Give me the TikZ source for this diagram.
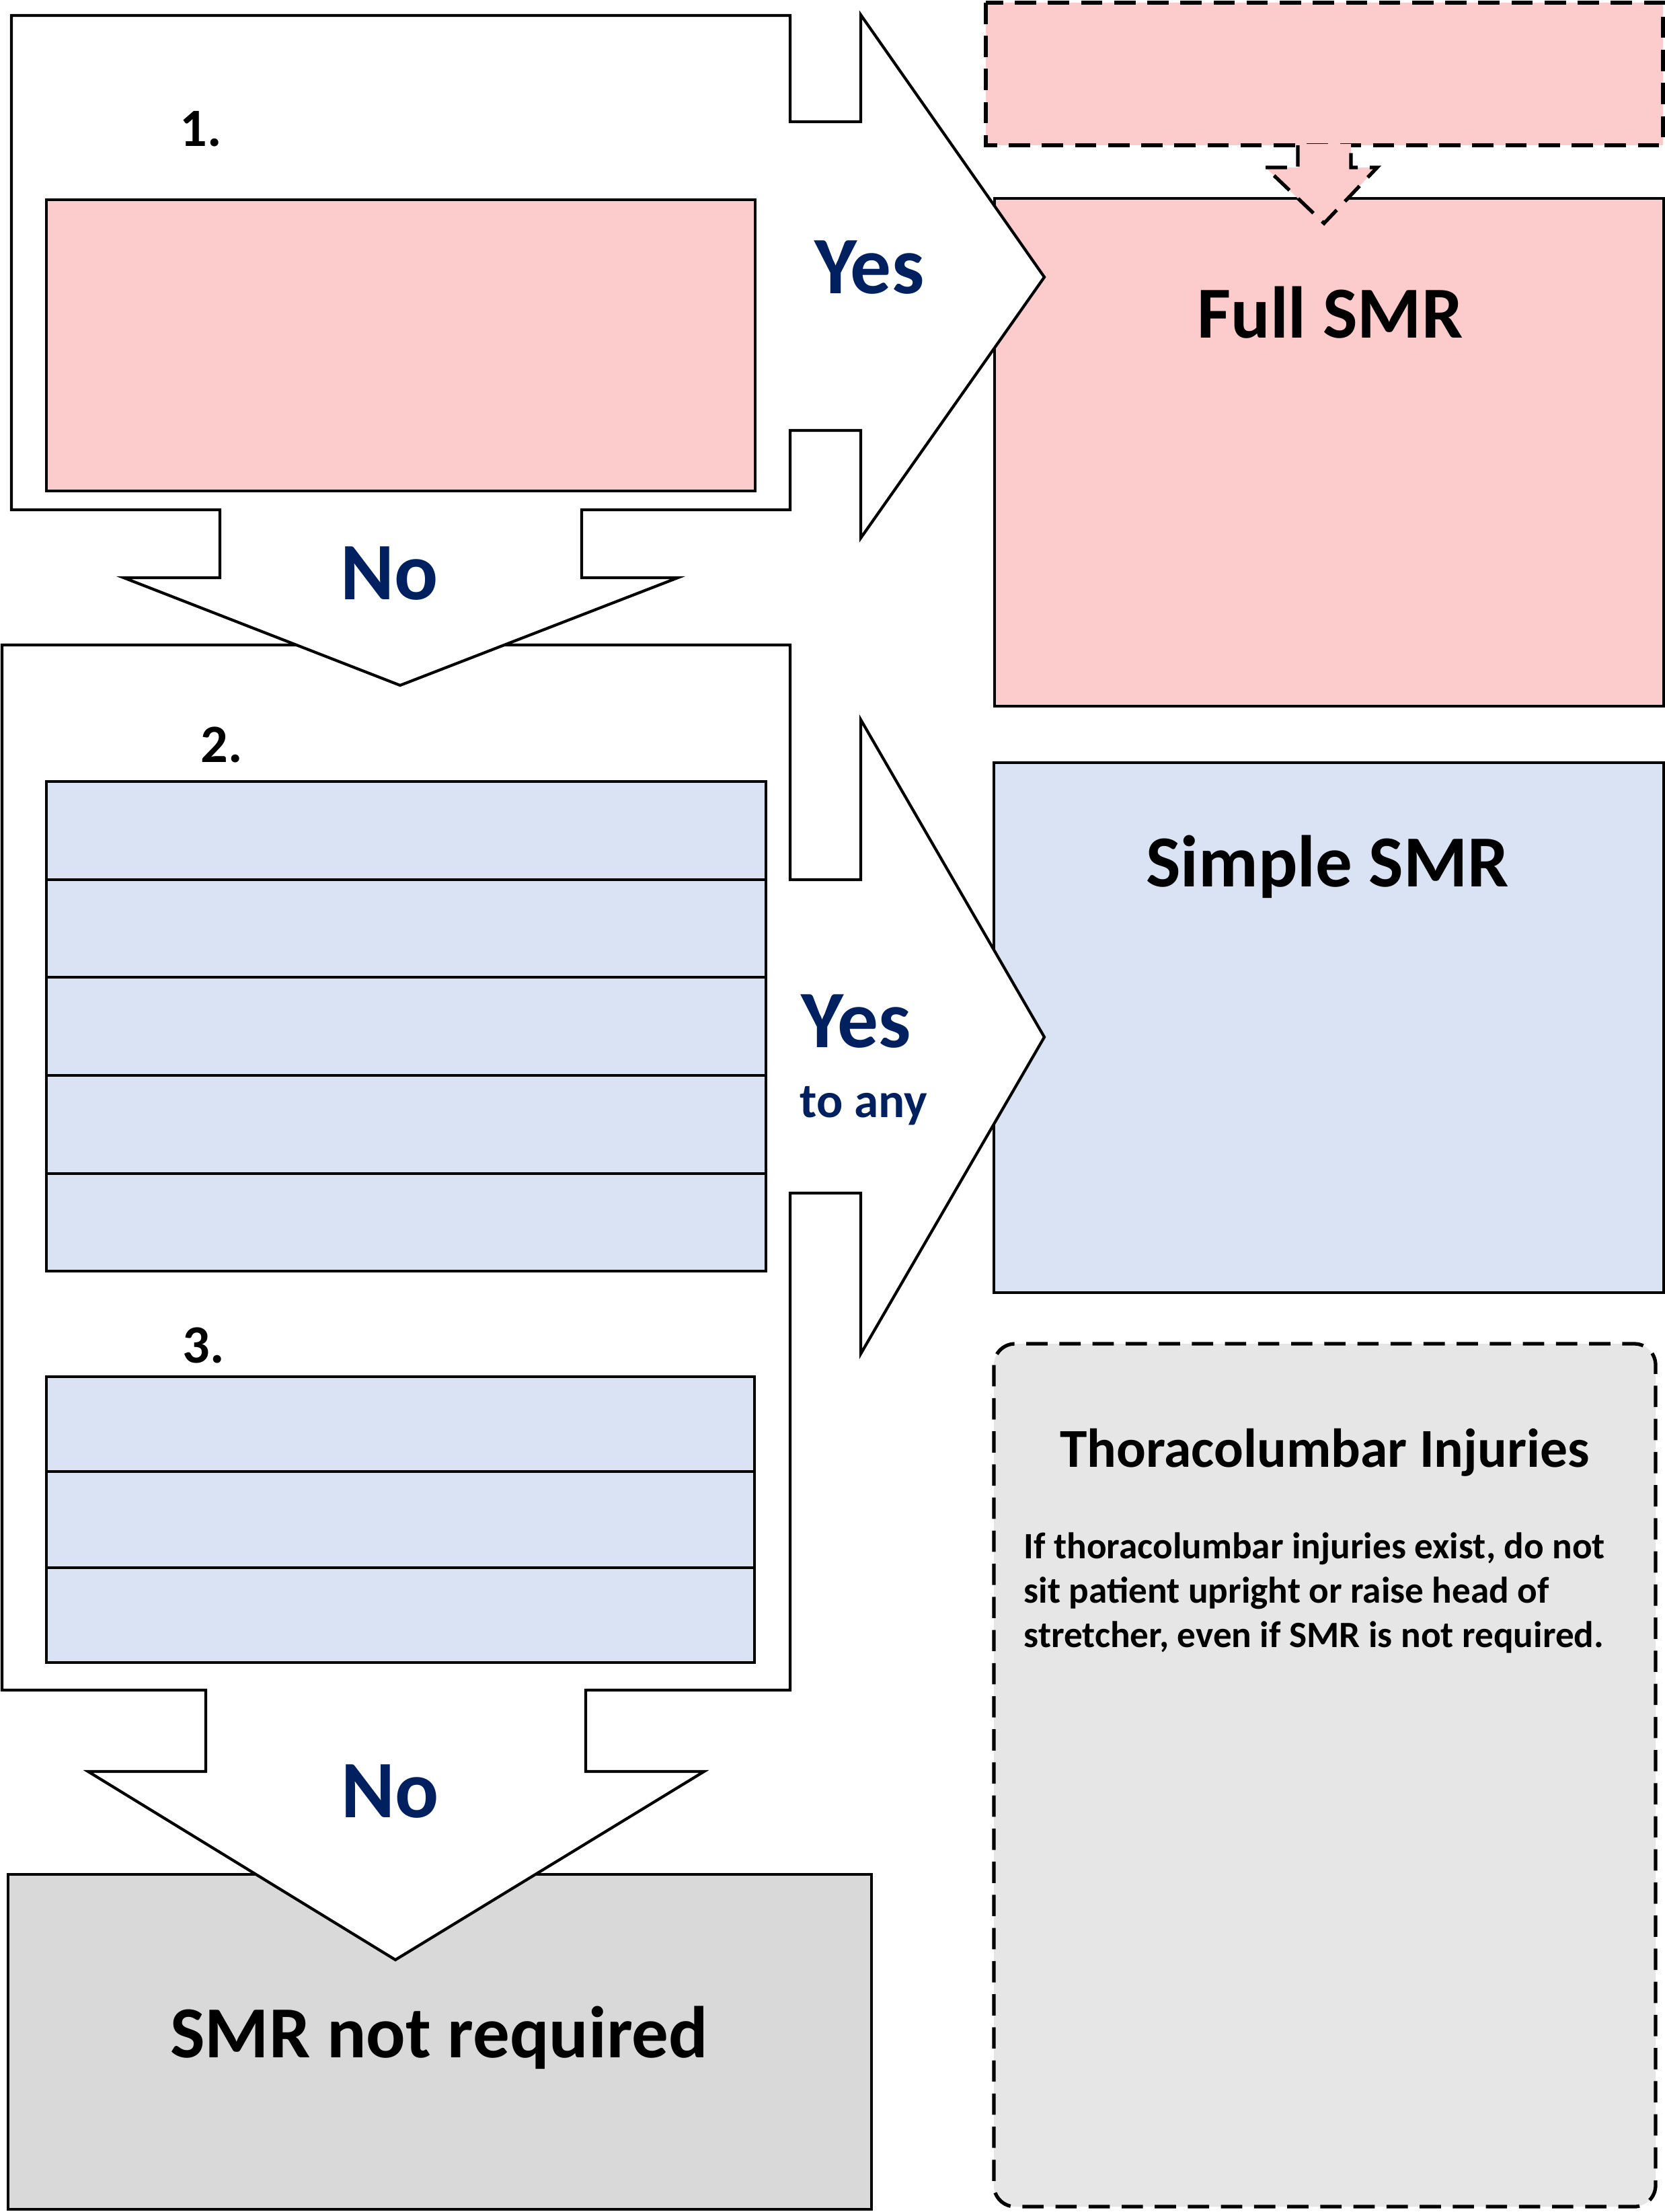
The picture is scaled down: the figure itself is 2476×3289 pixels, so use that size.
\documentclass[tikz,border=0pt]{standalone}
\usepackage{fontspec}
\setmainfont{Carlito}
\definecolor{pinkfill}{RGB}{252,203,203}
\definecolor{bluefill}{RGB}{218,227,243}
\definecolor{navy}{RGB}{0,32,96}
\definecolor{greyA}{RGB}{217,217,217}
\definecolor{greyB}{RGB}{230,230,230}
\tikzset{
  shapeline/.style={draw=black, line width=1.2pt, fill=white, line join=miter},
  boxline/.style={draw=black, line width=0.9pt},
  dashline/.style={draw=black, line width=1.5pt, dash pattern=on 9pt off 5pt},
  lbl/.style={inner sep=0pt, anchor=base, font=\bfseries},
  bodyline/.style={inner sep=0pt, anchor=base west, font=\bfseries\fontsize{15.7}{18.8}\selectfont},
}
\newcommand{\fs}[1]{\fontsize{#1}{#1}\selectfont}
\begin{document}
\begin{tikzpicture}[x=0.01cm,y=-0.01cm]
\useasboundingbox[fill=white] (0,0) rectangle (2476,3289);

% right-hand result boxes
\path[boxline, fill=pinkfill] (1479,295) rectangle (2474,1050);
\path[boxline, fill=bluefill] (1478,1134) rectangle (2474,1922);
\path[boxline, fill=greyA] (12,2787) rectangle (1296,3285);
\path[dashline, fill=greyB, rounded corners=9pt] (1478,1998) rectangle (2462,3281);

% question block 2 with arrows
\path[shapeline] (3,959) -- (1175,959) -- (1175,1308) -- (1280,1308) -- (1280,1070)
  -- (1553,1542) -- (1280,2013) -- (1280,1774) -- (1175,1774) -- (1175,2513)
  -- (871,2513) -- (871,2634) -- (1047,2634) -- (588,2914) -- (131,2634)
  -- (306,2634) -- (306,2513) -- (3,2513) -- cycle;

% question block 1 with arrows
\path[shapeline] (17,23) -- (1175,23) -- (1175,181) -- (1280,181) -- (1280,22)
  -- (1553,412) -- (1280,800) -- (1280,640) -- (1175,640) -- (1175,758)
  -- (865,758) -- (865,859) -- (1008,859) -- (595,1019) -- (184,859)
  -- (327,859) -- (327,758) -- (17,758) -- cycle;

% dashed top box and arrow
\path[dashline, fill=pinkfill] (1466,4) rectangle (2473,216);
\path[fill=pinkfill] (1930,214) -- (1930,249) -- (1882,249) -- (1969,332) -- (2048,249) -- (2009,249) -- (2009,214) -- cycle;
\path[dashline] (1930,216) -- (1930,249) -- (1882,249) -- (1969,332) -- (2048,249) -- (2009,249) -- (2009,216);

% pink question box 1
\path[boxline, fill=pinkfill] (69,297) rectangle (1123,730);

% table 2
\path[boxline, line width=1.1pt, fill=bluefill] (69,1162) rectangle (1139,1890);
\foreach \yy in {1308,1453,1599,1745} \draw[line width=1.1pt] (69,\yy) -- (1139,\yy);

% table 3
\path[boxline, line width=1.1pt, fill=bluefill] (69,2047) rectangle (1122,2472);
\foreach \yy in {2188,2331} \draw[line width=1.1pt] (69,\yy) -- (1122,\yy);

% labels
\node[lbl, anchor=base west] (n1) at (267,217) {\fs{22.8}1.};
\node[lbl, anchor=base west] (n2) at (298,1133) {\fs{22.8}2.};
\node[lbl, anchor=base west] (n3) at (271,2026) {\fs{22.8}3.};

\node[lbl, text=navy] (yes1) at (1293,436) {\fs{34.5}Yes};
\node[lbl, text=navy] (no1) at (579,891) {\fs{34.5}No};
\node[lbl, text=navy, anchor=base west] (yes2) at (1191,1557) {\fs{34.5}Yes};
\node[lbl, text=navy, anchor=base west] (toany) at (1189,1661) {\fs{20.8}to any};
\node[lbl, text=navy] (no2) at (580,2702) {\fs{34.5}No};

\node[lbl] (full) at (1978,502) {\fs{31}Full SMR};
\node[lbl] (simple) at (1974,1318) {\fs{31}Simple SMR};
\node[lbl] (notreq) at (653,3059) {\fs{31}SMR not required};

\node[lbl] (thtitle) at (1970,2181) {\fs{23.2}Thoracolumbar Injuries};
\node[bodyline] (thbodyA) at (1522,2317) {If thoracolumbar injuries exist, do not};
\node[bodyline] (thbodyB) at (1522,2383) {sit patient upright or raise head of};
\node[bodyline] (thbodyC) at (1522,2449) {stretcher, even if SMR is not required.};
\end{tikzpicture}
\end{document}
